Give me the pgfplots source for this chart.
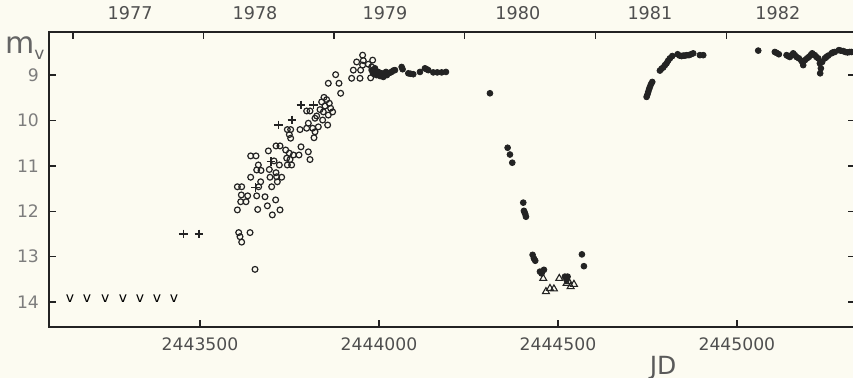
\documentclass[border=0pt]{standalone}
\usepackage{pgfplots}
\pgfplotsset{compat=1.18}
\usepackage{fontspec}
\setmainfont{DejaVu Sans}
\definecolor{bg}{RGB}{252,251,241}
\definecolor{ink}{RGB}{35,35,35}
\definecolor{tickgray}{RGB}{125,125,125}
\begin{document}
\begin{tikzpicture}
\fill[bg] (-24.5pt,-25.5pt) rectangle (402pt,163.5pt);
\begin{axis}[
 width=403pt, height=147.5pt, scale only axis,
 xmin=78, xmax=2330, ymin=8.05, ymax=14.55, y dir=reverse,
 axis line style={ink, line width=0.9pt},
 tick align=inside, major tick length=3.5pt,
 tick style={ink, line width=0.7pt},
 xtick={500,1000,1500,2000}, xticklabels={2443500,2444000,2444500,2445000},
 xtick pos=left,
 ytick={9,10,11,12,13,14},
 /pgf/number format/assume math mode=true,
 ticklabel style={font=\fontsize{8.6}{9}\selectfont},
 xticklabel style={text=ink!80, yshift=-2pt},
 yticklabel style={text=tickgray, xshift=-1.5pt},
 clip=false,
]
% upper limits
\addplot[only marks, mark=text, text mark={\fontsize{7}{7}\selectfont v}, color=tickgray] table {
x y
137 13.93
184 13.93
235 13.93
285 13.93
332 13.93
380 13.93
427 13.93
};
% open circles
\addplot[only marks, mark=o, mark size=1.45pt, ink, mark options={line width=0.6pt}] table {
x y
954.3 8.56
937.6 8.71
956.2 8.68
970.2 8.76
982.3 8.67
954.3 8.78
948.7 8.89
928.3 8.89
923.6 9.07
946.9 9.07
979.5 8.82
984.1 8.96
976.7 9.06
878.9 8.99
858.4 9.18
888.2 9.18
892.9 9.40
846.3 9.49
853.8 9.54
839.8 9.59
861.2 9.62
849.1 9.68
864.9 9.73
835.2 9.76
870.5 9.81
844.5 9.81
858.4 9.88
825.9 9.90
842.6 9.99
856.6 10.10
807.2 9.79
797.9 9.79
821.2 9.95
802.6 10.06
797.9 10.17
814.7 10.17
830.5 10.14
821.2 10.25
779.3 10.20
743.9 10.20
753.2 10.20
749.5 10.31
753.2 10.39
818.4 10.38
712.3 10.56
723.4 10.56
782.1 10.58
739.3 10.65
749.5 10.72
760.7 10.76
776.5 10.76
802.6 10.69
807.2 10.86
690.9 10.67
641.5 10.78
656.4 10.78
706.7 10.89
742.1 10.83
751.4 10.86
743.9 10.98
756.0 10.98
721.6 10.98
662.9 10.98
658.3 11.09
670.4 11.10
693.6 11.08
712.3 11.15
728.1 11.25
714.1 11.24
695.5 11.25
641.5 11.25
669.4 11.35
663.9 11.46
716.0 11.35
700.2 11.46
604.3 11.46
616.4 11.46
615.4 11.64
633.1 11.66
613.6 11.79
628.5 11.79
658.3 11.66
681.5 11.68
711.3 11.75
661.1 11.96
688.1 11.88
702.0 12.08
723.4 11.97
604.3 11.97
608.0 12.47
611.7 12.56
616.4 12.68
639.7 12.47
653.6 13.28
};
% plus
\addplot[only marks, mark=+, mark size=2.2pt, ink, mark options={line width=0.6pt}] table {
x y
453 12.5
497 12.5
656 11.48
698 10.91
719 10.10
757 9.99
782 9.66
817 9.66
};
% filled dots
\addplot[only marks, mark=*, mark size=1.45pt, ink, mark options={fill=ink}] table {
x y
979.5 8.89
984 8.96
988.8 8.85
993 9.00
998.1 8.93
1003 9.02
1007.4 8.96
1012.1 9.04
1015 8.98
1019.5 8.93
1022 9.00
1026.0 8.96
1030 8.95
1035.3 8.93
1040 8.90
1044.6 8.89
1063.3 8.82
1066.0 8.87
1081.9 8.96
1088 8.97
1095.8 8.98
1114.5 8.93
1128.4 8.85
1133 8.87
1137.7 8.89
1151.7 8.94
1162.9 8.94
1175.0 8.94
1187.1 8.93
1310 9.40
1359.4 10.60
1365.9 10.75
1372.4 10.93
1403.1 11.81
1405.0 11.99
1407 12.03
1408.7 12.06
1410.6 12.12
1429.2 12.96
1432.9 13.04
1436.6 13.09
1449.7 13.33
1454.3 13.37
1460.9 13.29
1519.5 13.44
1524.1 13.51
1527 13.44
1567.0 12.95
1572.6 13.21
1747.7 9.48
1750 9.43
1752.3 9.37
1754.6 9.31
1757 9.26
1760 9.20
1763.5 9.15
1784.9 8.90
1789.5 8.86
1794.2 8.83
1799 8.78
1803.5 8.74
1808 8.68
1812.9 8.63
1819.4 8.58
1834.3 8.54
1840 8.57
1845.4 8.58
1850 8.57
1854.8 8.57
1860 8.56
1865.9 8.56
1872 8.54
1878.0 8.52
1896.6 8.56
1906 8.56
2059.6 8.46
2106 8.49
2111 8.51
2117.3 8.54
2138.7 8.56
2143 8.58
2148 8.60
2153 8.56
2157.3 8.52
2162 8.56
2166.6 8.60
2173.2 8.63
2180.6 8.69
2185.3 8.78
2190 8.67
2196 8.63
2201.1 8.60
2206 8.56
2210.4 8.52
2217.8 8.56
2222 8.60
2227.2 8.63
2231.8 8.74
2234.6 8.85
2232.7 8.96
2238.3 8.71
2245.8 8.63
2250 8.60
2255.1 8.57
2264.4 8.52
2268 8.50
2273.7 8.49
2284.9 8.45
2290 8.46
2297 8.47
2303 8.49
2309 8.50
2315 8.49
2320.3 8.49
};
% open triangles
\addplot[only marks, mark=triangle, mark size=2pt, ink, mark options={line width=0.55pt}] table {
x y
1459 13.48
1466.5 13.77
1477.7 13.70
1488.8 13.71
1503.7 13.48
1524.2 13.59
1530 13.55
1535.4 13.66
1544.7 13.61
};
\node[anchor=base, inner sep=0pt, font=\fontsize{12.5}{12.5}\selectfont, text=ink!75] at (rel axis cs:0.762,-0.160) {JD};
\node[font=\fontsize{15}{15}\selectfont, text=ink!70] at (rel axis cs:-0.030,0.945) {m\raisebox{-0.35ex}{\fontsize{8.5}{8.5}\selectfont v}};
\end{axis}
\begin{axis}[
 width=403pt, height=147.5pt, scale only axis,
 xmin=78, xmax=2330, ymin=8.05, ymax=14.55, y dir=reverse,
 axis x line*=top, axis y line=none,
 axis line style={ink, line width=0.9pt},
 tick align=inside, major tick length=3.5pt,
 tick style={ink, line width=0.7pt},
 xtick={144.5,509.5,874.5,1239.5,1605.5,1970.5}, xticklabels={},
 clip=false,
]
\path (axis cs:304.5,8.05) node[above=2.5pt, font=\fontsize{8.8}{9}\selectfont, text=ink!80] {1977}
      (axis cs:653.6,8.05) node[above=2.5pt, font=\fontsize{8.8}{9}\selectfont, text=ink!80] {1978}
      (axis cs:1016.8,8.05) node[above=2.5pt, font=\fontsize{8.8}{9}\selectfont, text=ink!80] {1979}
      (axis cs:1388,8.05) node[above=2.5pt, font=\fontsize{8.8}{9}\selectfont, text=ink!80] {1980}
      (axis cs:1757,8.05) node[above=2.5pt, font=\fontsize{8.8}{9}\selectfont, text=ink!80] {1981}
      (axis cs:2114.5,8.05) node[above=2.5pt, font=\fontsize{8.8}{9}\selectfont, text=ink!80] {1982};
\end{axis}
\pgfresetboundingbox
\useasboundingbox (-24.5pt,-25.5pt) rectangle (402pt,163.5pt);
\end{tikzpicture}
\end{document}
